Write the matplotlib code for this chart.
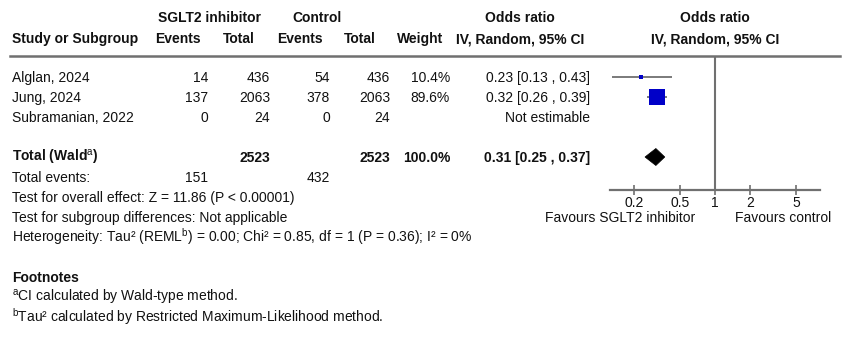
import matplotlib.pyplot as plt
from matplotlib.patches import Polygon
import numpy as np

plt.rcParams["font.family"] = ["Liberation Sans", "DejaVu Sans"]
plt.rcParams["mathtext.fontset"] = "custom"
plt.rcParams["mathtext.rm"] = "Liberation Sans"
plt.rcParams["mathtext.default"] = "rm"

# study-level data
studies = ["Alglan, 2024", "Jung, 2024", "Subramanian, 2022"]
sglt2_events = [14, 137, 0]
sglt2_total = [436, 2063, 24]
ctrl_events = [54, 378, 0]
ctrl_total = [436, 2063, 24]
weights = [10.4, 89.6, None]
odds = [0.23, 0.32, None]
ci_low = [0.13, 0.26, None]
ci_high = [0.43, 0.39, None]

# pooled result
pooled_or = 0.31
pooled_low = 0.25
pooled_high = 0.37
pooled_events = [151, 432]
pooled_total = [2523, 2523]

ticks = [0.2, 0.5, 1, 2, 5]

W, H = 850, 340
DPI = 100
FS = 10
GREY = "#707070"
BLUE = "#0000c8"

fig = plt.figure(figsize=(W / DPI, H / DPI), dpi=DPI)


def px(x, y):
    return x / W, 1 - y / H


def txt(x, y, s, ha="left", bold=False, size=FS):
    # y is the row centre; text sits on a baseline just below it
    fig.text(*px(x, y + 5), s, ha=ha, va="baseline", fontsize=size,
             fontweight="bold" if bold else "normal", color="#111111")


# header
txt(209, 17, "SGLT2 inhibitor", "center", True)
txt(317, 17, "Control", "center", True)
txt(520, 17, "Odds ratio", "center", True)
txt(715, 17, "Odds ratio", "center", True)
txt(12, 38, "Study or Subgroup", bold=True)
txt(178, 38, "Events", "center", True)
txt(239, 38, "Total", "center", True)
txt(300, 38, "Events", "center", True)
txt(360, 38, "Total", "center", True)
txt(420, 38, "Weight", "center", True)
txt(520, 38, "IV, Random, 95% CI", "center", True)
txt(715, 38, "IV, Random, 95% CI", "center", True)

fig.add_artist(plt.Line2D([10 / W, 840 / W], [1 - 56 / H] * 2,
                          color=GREY, lw=1.8))

# study rows
row_y = [77, 97, 117]
for i, name in enumerate(studies):
    y = row_y[i]
    txt(12, y, name)
    txt(208, y, str(sglt2_events[i]), "right")
    txt(270, y, str(sglt2_total[i]), "right")
    txt(330, y, str(ctrl_events[i]), "right")
    txt(390, y, str(ctrl_total[i]), "right")
    if weights[i] is None:
        txt(590, y, "Not estimable", "right")
    else:
        txt(450, y, f"{weights[i]:.1f}%", "right")
        txt(590, y, f"{odds[i]:.2f} [{ci_low[i]:.2f} , {ci_high[i]:.2f}]", "right")

# total rows
txt(12, 157, r"Total (Wald$^{\mathrm{a}}$)", bold=True)
txt(270, 157, str(pooled_total[0]), "right", True)
txt(390, 157, str(pooled_total[1]), "right", True)
txt(450, 157, f"{sum(w for w in weights if w):.1f}%", "right", True)
txt(590, 157, f"{pooled_or:.2f} [{pooled_low:.2f} , {pooled_high:.2f}]", "right", True)
txt(12, 177, "Total events:")
txt(208, 177, str(pooled_events[0]), "right")
txt(330, 177, str(pooled_events[1]), "right")
txt(12, 197, "Test for overall effect: Z = 11.86 (P < 0.00001)")
txt(12, 217, "Test for subgroup differences: Not applicable")
txt(12, 237, r"Heterogeneity: Tau² (REML$^{\mathrm{b}}$) = 0.00; Chi² = 0.85, df = 1 (P = 0.36); I² = 0%")

txt(12, 277, "Footnotes", bold=True)
txt(12, 297, r"$^{\mathrm{a}}$CI calculated by Wald-type method.")
txt(12, 317, r"$^{\mathrm{b}}$Tau² calculated by Restricted Maximum-Likelihood method.")

# forest panel
x0, x1, ytop, ybot = 610, 820, 56, 190
ax = fig.add_axes([x0 / W, 1 - ybot / H, (x1 - x0) / W, (ybot - ytop) / H])
ax.set_xscale("log")
ax.set_xlim(0.125, 8)
ax.set_ylim(ybot, ytop)
ax.patch.set_alpha(0)
for s in ["top", "left", "right"]:
    ax.spines[s].set_visible(False)
ax.spines["bottom"].set_color(GREY)
ax.spines["bottom"].set_linewidth(1.6)
ax.set_yticks([])
ax.set_xticks(ticks)
ax.set_xticklabels([f"{t:g}" for t in ticks])
ax.minorticks_off()
ax.tick_params(axis="x", direction="inout", length=7, width=1.2, color=GREY,
               labelsize=FS, pad=1, labelcolor="#111111")
ax.axvline(1, color=GREY, lw=1.5, zorder=1)

for i in range(len(studies)):
    if odds[i] is None:
        continue
    y = row_y[i]
    ax.plot([ci_low[i], ci_high[i]], [y, y], color=GREY, lw=1.3, zorder=2,
            solid_capstyle="butt")
    side = 12.2 * (weights[i] / 89.6) ** 0.67
    ax.plot(odds[i], y, marker="s", ms=side, color=BLUE, mew=0, zorder=3)

dy = 8.5
ax.add_patch(Polygon([(pooled_low, 157), (pooled_or, 157 - dy),
                      (pooled_high, 157), (pooled_or, 157 + dy)],
                     closed=True, facecolor="black", edgecolor="black",
                     lw=0.5, zorder=3))

txt(620, 217, "Favours SGLT2 inhibitor", "center")
txt(783, 217, "Favours control", "center")

fig.savefig("out.png", dpi=DPI, facecolor="white")
